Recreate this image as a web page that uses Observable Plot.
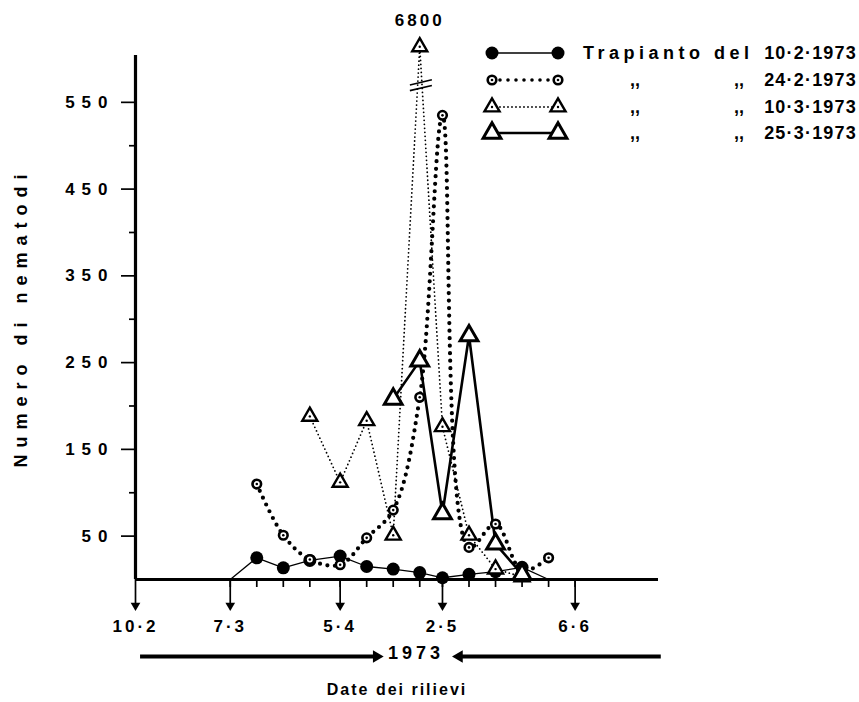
<!DOCTYPE html>
<html><head><meta charset="utf-8">
<script src="https://cdn.jsdelivr.net/npm/d3@7"></script>
<script src="https://cdn.jsdelivr.net/npm/@observablehq/plot@0.6"></script>
<style>
body{margin:0;background:#fff;}
#chart{position:relative;width:859px;height:702px;}
#chart svg text{font-family:"Liberation Sans",Arial,sans-serif;font-weight:bold;}
#legend{position:absolute;left:0;top:0;}
</style></head><body><div id="chart"></div>
<script>
// ---- data (days counted from 10 Feb 1973) ----
const sampleDays = [25,32,39,46,54,61,68,75,81,88,95,102,109,116];
const labelDays = [0,25,54,81,116];
const labelTexts = ["10·2","7·3","5·4","2·5","6·6"];
const s1Days = [25,32,39,46,54,61,68,75,81,88,95,102,109];
const s1Vals = [0,25,13.5,22,27,15,12,8,2,6,9,14,0];
const s2Days = [32,39,46,54,61,68,75,81,88,95,102,109];
const s2Vals = [110,51,23,17,48,80,210,535,37,64,10,25];
const s3Days = [46,54,61,68,75,81,88,95,102];
const s3Vals = [188,112,183,51,6800,176,51,12,3];
const s4Days = [68,75,81,88,95,102];
const s4Vals = [208,252,76,281,41,6];
const legendPrefix = "Trapianto del";
const legendDates = ["10·2·1973","24·2·1973","10·3·1973","25·3·1973"];
const yMajorTicks = [50,150,250,350,450,550];
const yMinorTicks = [100,200,300,400,500];
const yearLabel = "1973";
const yTitle = "Numero di nematodi";
const xTitle = "Date dei rilievi";

const yTop = 604;          // top of the drawn y axis
const brokenShown = 614;   // where the off-scale 6800 value is drawn
const breakAt = 573;       // where the break marks sit
const xMax = 138;

const rows = (days, vals) => days.map((d,i)=>({day:d, value:vals[i], shown: vals[i] > yTop ? brokenShown : vals[i]}));
const S1 = rows(s1Days, s1Vals), S2 = rows(s2Days, s2Vals), S3 = rows(s3Days, s3Vals), S4 = rows(s4Days, s4Vals);
const peak = S3.find(d => d.value > yTop);
const breakMarks = [0, 6.5].map(o => ({x1: peak.day - 2.6, x2: peak.day + 3.2, y1: breakAt - o - 3, y2: breakAt - o + 3}));
const yearDay = 74;
const yearArrows = [{x1: 1.2, x2: yearDay - 10.4, dir: 90}, {x1: xMax + 0.6, x2: yearDay + 11.4, dir: -90}];

const chart = Plot.plot({
  width: 859, height: 702,
  marginLeft: 135, marginRight: 201, marginTop: 55, marginBottom: 123,
  x: {domain: [0, xMax]},
  y: {domain: [0, yTop]},
  style: {fontFamily: "Liberation Sans, Arial, sans-serif", fontSize: "16px", color: "#000", background: "#fff", overflow: "visible"},
  marks: [
    Plot.axisY({ticks: yMajorTicks, tickSize: 14, tickPadding: 7, strokeWidth: 1.7, fontSize: 17,
      label: yTitle, labelAnchor: "center", labelOffset: 121, labelArrow: "none"}),
    Plot.axisY({ticks: yMinorTicks, tickSize: 6, tickFormat: () => "", label: null, strokeWidth: 1.7}),
    Plot.axisX({ticks: sampleDays, tickSize: 8, tickFormat: () => "", label: null, strokeWidth: 1.7}),
    Plot.axisX({ticks: labelDays, tickSize: 27, tickPadding: 13, fontSize: 17,
      tickFormat: d => labelTexts[labelDays.indexOf(d)], label: null, strokeWidth: 1.7}),
    Plot.dot(labelDays, {x: d => d, y: () => 0, dy: 26, symbol: "triangle", rotate: 180, r: 3.6, fill: "black"}),
    Plot.ruleX([0], {y1: 0, y2: yTop, strokeWidth: 3.2}),
    Plot.ruleY([0], {strokeWidth: 3.2}),
    // series lines
    Plot.line(S1, {x: "day", y: "shown", stroke: "black", strokeWidth: 1.3}),
    Plot.line(S3, {x: "day", y: "shown", stroke: "black", strokeWidth: 1.8, strokeDasharray: "0 4", strokeLinecap: "round"}),
    Plot.line(S2, {x: "day", y: "shown", stroke: "black", strokeWidth: 4.2, strokeDasharray: "0 7.5", strokeLinecap: "round", curve: "catmull-rom"}),
    Plot.line(S4, {x: "day", y: "shown", stroke: "black", strokeWidth: 2.6}),
    Plot.link(breakMarks, {x1: "x1", x2: "x2", y1: "y1", y2: "y2", stroke: "black", strokeWidth: 1.6}),
    // markers
    Plot.dot(S1.filter(d => d.value > 0), {x: "day", y: "shown", r: 6.5, fill: "black"}),
    Plot.dot(S2, {x: "day", y: "shown", r: 4.3, fill: "white", stroke: "black", strokeWidth: 2.6}),
    Plot.dot(S2, {x: "day", y: "shown", r: 1.3, fill: "black"}),
    Plot.dot(S3, {x: "day", y: "shown", symbol: "triangle", r: 5.6, fill: "white", stroke: "black", strokeWidth: 2.4}),
    Plot.dot(S3, {x: "day", y: "shown", r: 1.2, fill: "black"}),
    Plot.dot(S4, {x: "day", y: "shown", symbol: "triangle", r: 6.6, fill: "white", stroke: "black", strokeWidth: 3}),
    Plot.text([peak], {x: "day", y: "shown", text: d => String(d.value), dy: -26, fontSize: 17, fontWeight: "bold"}),
    // bottom year with arrows and title
    Plot.link(yearArrows, {x1: "x1", x2: "x2", y1: () => 0, y2: () => 0, dy: 77, stroke: "black", strokeWidth: 4.2}),
    Plot.dot(yearArrows, {x: "x2", y: () => 0, dy: 77, symbol: "triangle", rotate: "dir", r: 4.6, fill: "black"}),
    Plot.text([yearLabel], {x: () => yearDay, frameAnchor: "bottom", dy: 79, fontSize: 18, fontWeight: "bold"}),
    Plot.text([xTitle], {x: () => 69, frameAnchor: "bottom", dy: 115, fontSize: 16, fontWeight: "bold"})
  ]
});
const root = document.getElementById("chart");
root.appendChild(chart);

// letter spacing like the original lettering
const sel = d3.select(chart);
sel.selectAll("text").style("letter-spacing", "3px");
sel.selectAll("g[aria-label='y-axis tick label'] text").style("letter-spacing", "7px");
sel.selectAll("g[aria-label='y-axis label'] text").style("letter-spacing", "7px").style("font-size", "18px");
sel.selectAll("g[aria-label='text'] text").filter(function(){ return this.textContent === yearLabel; }).style("letter-spacing", "4px");
sel.selectAll("g[aria-label='text'] text").filter(function(){ return this.textContent === xTitle; }).style("letter-spacing", "2px");

// ---- legend ----
const lg = d3.select(root).append("svg").attr("id", "legend").attr("width", 859).attr("height", 160);
const rowsY = [53, 80, 107, 133];
const xA = 492, xB = 558;
const tri = r => d3.symbol(d3.symbolTriangle, Math.PI * r * r)();
rowsY.forEach((y, i) => {
  const g = lg.append("g");
  if (i === 0) {
    g.append("line").attr("x1", xA).attr("x2", xB).attr("y1", y).attr("y2", y).attr("stroke", "black").attr("stroke-width", 1.3);
    [xA, xB].forEach(x => g.append("circle").attr("cx", x).attr("cy", y).attr("r", 6.5).attr("fill", "black"));
  } else if (i === 1) {
    g.append("line").attr("x1", xA).attr("x2", xB).attr("y1", y).attr("y2", y).attr("stroke", "black").attr("stroke-width", 3.6).attr("stroke-dasharray", "0 8").attr("stroke-linecap", "round");
    [xA, xB].forEach(x => { g.append("circle").attr("cx", x).attr("cy", y).attr("r", 4.3).attr("fill", "white").attr("stroke", "black").attr("stroke-width", 2.6);
      g.append("circle").attr("cx", x).attr("cy", y).attr("r", 1.3).attr("fill", "black"); });
  } else if (i === 2) {
    g.append("line").attr("x1", xA).attr("x2", xB).attr("y1", y).attr("y2", y).attr("stroke", "black").attr("stroke-width", 1.8).attr("stroke-dasharray", "0 4").attr("stroke-linecap", "round");
    [xA, xB].forEach(x => { g.append("path").attr("d", tri(5.6)).attr("transform", `translate(${x},${y})`).attr("fill", "white").attr("stroke", "black").attr("stroke-width", 2.4);
      g.append("circle").attr("cx", x).attr("cy", y).attr("r", 1.2).attr("fill", "black"); });
  } else {
    g.append("line").attr("x1", xA).attr("x2", xB).attr("y1", y).attr("y2", y).attr("stroke", "black").attr("stroke-width", 2.6);
    [xA, xB].forEach(x => g.append("path").attr("d", tri(6.6)).attr("transform", `translate(${x},${y})`).attr("fill", "white").attr("stroke", "black").attr("stroke-width", 3));
  }
  const t = g.append("g").attr("font-family", "Liberation Sans, Arial, sans-serif").attr("font-weight", "bold").attr("font-size", 18);
  if (i === 0) {
    t.append("text").attr("x", 583).attr("y", y).attr("dy", "0.35em").style("letter-spacing", "4.5px").text(legendPrefix);
  } else {
    t.append("text").attr("x", 630).attr("y", y).attr("dy", "0.35em").text(",,");
    t.append("text").attr("x", 734).attr("y", y).attr("dy", "0.35em").text(",,");
  }
  t.append("text").attr("x", 857).attr("y", y).attr("dy", "0.35em").attr("text-anchor", "end").style("letter-spacing", "1.2px").text(legendDates[i]);
});
</script>
</body></html>
